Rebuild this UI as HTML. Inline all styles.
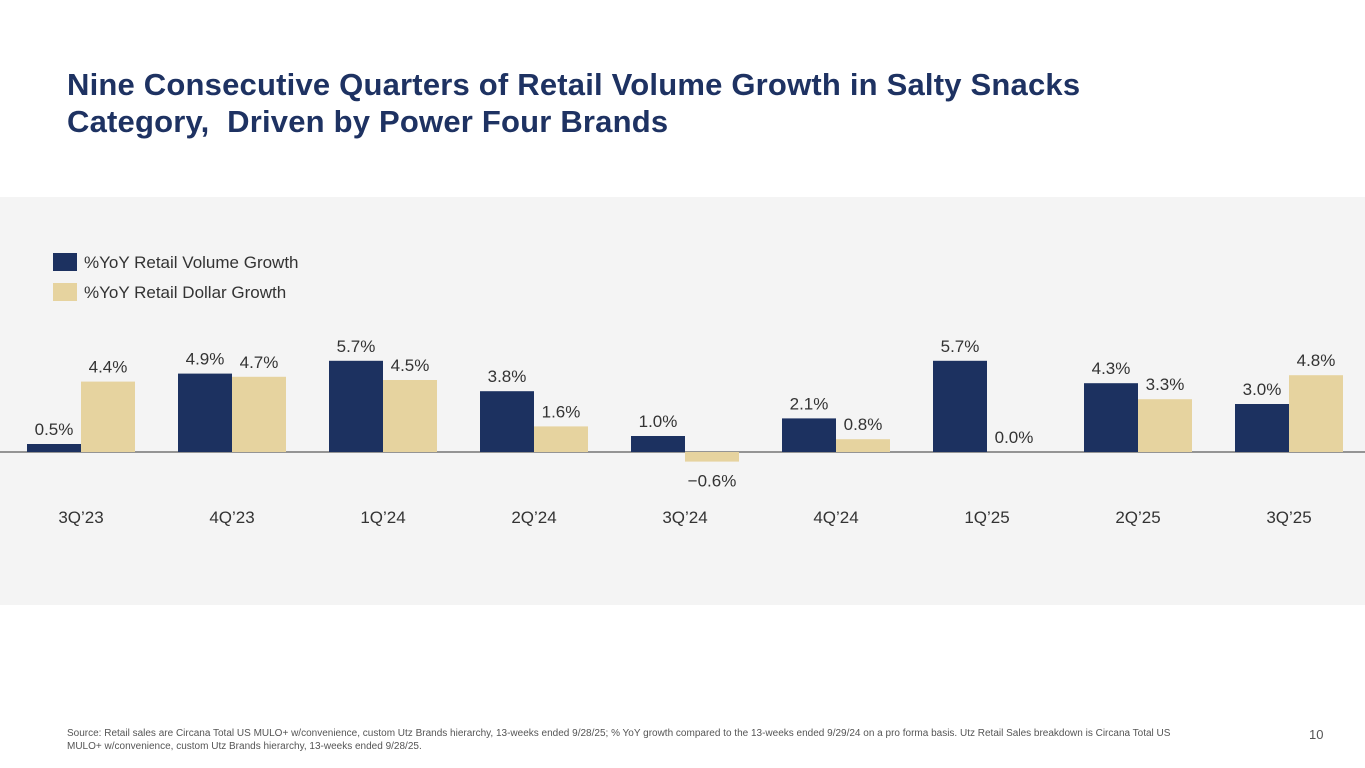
<!DOCTYPE html>
<html><head><meta charset="utf-8"><style>
body{margin:0;width:1365px;height:768px;background:#fff;font-family:"Liberation Sans",sans-serif;overflow:hidden;position:relative}
.title{position:absolute;left:67px;top:66px;font-size:31px;font-weight:bold;color:#1e3262;line-height:37px;letter-spacing:0.2px}
.panel{position:absolute;left:0;top:197px;width:1365px;height:408px;background:#f4f4f4}
.foot{position:absolute;left:67px;top:727px;font-size:10px;color:#555;line-height:13px;width:1140px}
.pg{position:absolute;left:1309px;top:727px;font-size:13px;color:#555}
</style></head><body>
<div class="title">Nine Consecutive Quarters of Retail Volume Growth in Salty Snacks<br>Category,&nbsp; Driven by Power Four Brands</div>
<div class="panel"></div>
<svg id="chart" width="1365" height="768" style="position:absolute;left:0;top:0">
<rect x="53" y="253" width="24" height="18" fill="#1c3160"/>
<text x="84" y="268" font-size="17" fill="#333">%YoY Retail Volume Growth</text>
<rect x="53" y="283" width="24" height="18" fill="#e6d39f"/>
<text x="84" y="298" font-size="17" fill="#333">%YoY Retail Dollar Growth</text>
<line x1="0" y1="452" x2="1365" y2="452" stroke="#333" stroke-width="1"/>
</svg>
<div class="foot">Source: Retail sales are Circana Total US MULO+ w/convenience, custom Utz Brands hierarchy, 13-weeks ended 9/28/25; % YoY growth compared to the 13-weeks ended 9/29/24 on a pro forma basis. Utz Retail Sales breakdown is Circana Total US MULO+ w/convenience, custom Utz Brands hierarchy, 13-weeks ended 9/28/25.</div>
<div class="pg">10</div>
<script>
const categories=["3Q’23","4Q’23","1Q’24","2Q’24","3Q’24","4Q’24","1Q’25","2Q’25","3Q’25"];
const volume=[0.5,4.9,5.7,3.8,1.0,2.1,5.7,4.3,3.0];
const dollar=[4.4,4.7,4.5,1.6,-0.6,0.8,0.0,3.3,4.8];
const svg=document.getElementById('chart');
const NS='http://www.w3.org/2000/svg';
const base=452,scale=16,pitch=151,c0=81,bw=54;
const y=v=>base-v*scale;
const xc=i=>c0+i*pitch;
function mk(tag,attrs){const e=document.createElementNS(NS,tag);for(const k in attrs)e.setAttribute(k,attrs[k]);svg.appendChild(e);return e;}
function bar(v,x,color,name){
  const r=mk('rect',{x:x,y:Math.min(y(v),base),width:bw,height:Math.abs(v*scale),fill:color});
  
  
  const ty=v>=0?y(v)-9:y(v)+25;
  const t=mk('text',{x:x+bw/2,y:ty,'font-size':17,fill:'#333','text-anchor':'middle'});
  t.textContent=(v<0?'−':'')+Math.abs(v).toFixed(1)+'%';
  
  
}
categories.forEach((c,i)=>{
  bar(volume[i],xc(i)-bw,'#1c3160','volume-bar-'+i);
  bar(dollar[i],xc(i),'#e6d39f','dollar-bar-'+i);
  const t=mk('text',{x:xc(i),y:523,'font-size':17,fill:'#333','text-anchor':'middle'});
  t.textContent=c;
  
  
});
</script>
</body></html>
